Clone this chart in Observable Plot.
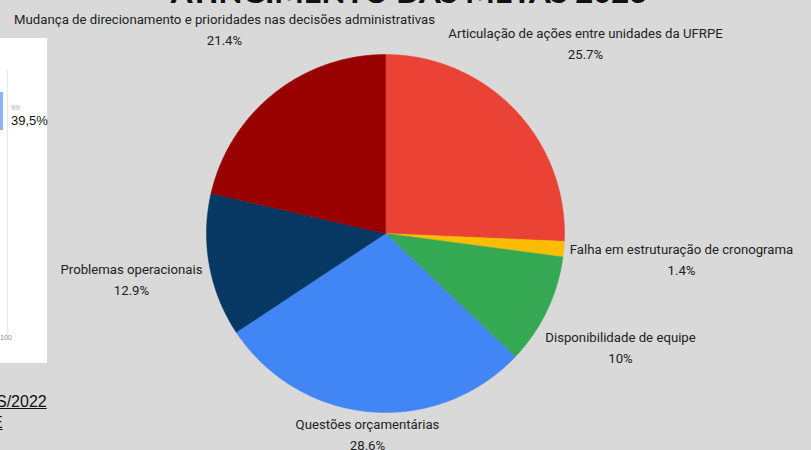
<!DOCTYPE html>
<html>
<head>
<meta charset="utf-8">
<script src="https://cdn.jsdelivr.net/npm/d3@7"></script>
<script src="https://cdn.jsdelivr.net/npm/@observablehq/plot@0.6"></script>
<style>
  html, body { margin: 0; padding: 0; background: #d9d9d9; overflow: hidden; }
  #wrap { position: relative; width: 811px; height: 450px; }
  .abs { position: absolute; }
  #panel { left: 0; top: 38px; width: 47px; height: 325px; background: #fff; }
  #bar { left: 0; top: 92px; width: 3px; height: 38px; background: #8ab4f8; }
  #vline { left: 7px; top: 70px; width: 1px; height: 265px; background: #e8e8e8; }
  #t99 { left: 11px; top: 103px; font: 8px Arial, "Liberation Sans", sans-serif; color: #b0b0b0; }
  #tpct { left: 11px; top: 113px; font: 13px Arial, "Liberation Sans", sans-serif; color: #111; }
  #t100 { left: 0px; top: 334px; font: 7px Arial, "Liberation Sans", sans-serif; color: #888; }
  #s2022 { left: -4px; top: 393px; font: 16px Arial, "Liberation Sans", sans-serif; color: #111; text-decoration: underline; }
  #e { left: -8px; top: 414px; font: 16px Arial, "Liberation Sans", sans-serif; color: #111; text-decoration: underline; }
  svg { position: absolute; left: 0; top: 0; }
</style>
</head>
<body>
<div id="wrap">
  <div id="chart"></div>
  <div id="panel" class="abs"></div>
  <div id="bar" class="abs"></div>
  <div id="vline" class="abs"></div>
  <div id="t99" class="abs">99</div>
  <div id="tpct" class="abs">39,5%</div>
  <div id="t100" class="abs">100</div>
  <div id="s2022" class="abs">S/2022</div>
  <div id="e" class="abs">E</div>
</div>
<script>
// ---- data ----
const categories = [
  "Articulação de ações entre unidades da UFRPE",
  "Falha em estruturação de cronograma",
  "Disponibilidade de equipe",
  "Questões orçamentárias",
  "Problemas operacionais",
  "Mudança de direcionamento e prioridades nas decisões administrativas"
];
const values = [25.7, 1.4, 10, 28.6, 12.9, 21.4];
const colors = ["#ea4335", "#fbbc04", "#34a853", "#4285f4", "#073763", "#990000"];
const title = "ATINGIMENTO DAS METAS 2023";

// ---- layout (pixels) ----
const W = 811, H = 450;
const cx = 385, cy = 233, R = 179;
// label anchors (name line centre), percent line is placed below
const labelLayout = [
  {x: 585, y: 33},
  {x: 681, y: 249},
  {x: 620, y: 337},
  {x: 367, y: 424},
  {x: 131, y: 269},
  {x: 224, y: 19}
];

// ---- wedges from data via d3.pie ----
const arcs = d3.pie().sort(null).value(d => d)(values);
const wedgePts = [];
arcs.forEach((a, i) => {
  const cat = categories[i];
  wedgePts.push({cat, x: 0, y: 0});
  const n = Math.max(2, Math.ceil((a.endAngle - a.startAngle) / 0.01));
  for (let k = 0; k <= n; k++) {
    const t = a.startAngle + (a.endAngle - a.startAngle) * k / n;
    wedgePts.push({cat, x: Math.sin(t), y: Math.cos(t)});
  }
  wedgePts.push({cat, x: 0, y: 0});
});

const toX = px => (px - cx) / R;
const toY = py => (cy - py) / R;
const labels = categories.map((c, i) => ({
  name: c, pct: `${values[i]}%`,
  x: toX(labelLayout[i].x), y: toY(labelLayout[i].y)
}));

const font = "Roboto, 'Noto Sans', sans-serif";
const chart = Plot.plot({
  width: W, height: H,
  margin: 0,
  style: {background: "transparent", overflow: "visible"},
  x: {domain: [-1, 1], range: [cx - R, cx + R], axis: null},
  y: {domain: [-1, 1], range: [cy + R, cy - R], axis: null},
  color: {domain: categories, range: colors},
  marks: [
    Plot.line(wedgePts, {x: "x", y: "y", z: "cat", fill: "cat", stroke: "cat", strokeWidth: 0.5, curve: "linear"}),
    Plot.text(labels, {x: "x", y: "y", text: "name", fontSize: 13.2, fill: "#222", fontFamily: font, textAnchor: "middle", lineAnchor: "middle"}),
    Plot.text(labels, {x: "x", y: "y", text: "pct", dy: 21, fontSize: 13.2, fill: "#222", fontFamily: font, textAnchor: "middle", lineAnchor: "middle"}),
    Plot.text([title], {frameAnchor: "top", text: d => d, dx: 3, dy: 2, lineAnchor: "bottom", fontSize: 31, fontWeight: 900, fill: "#111", fontFamily: "Lato, sans-serif", style: "letter-spacing:1.2px"})
  ]
});
document.getElementById("chart").appendChild(chart);
</script>
</body>
</html>
